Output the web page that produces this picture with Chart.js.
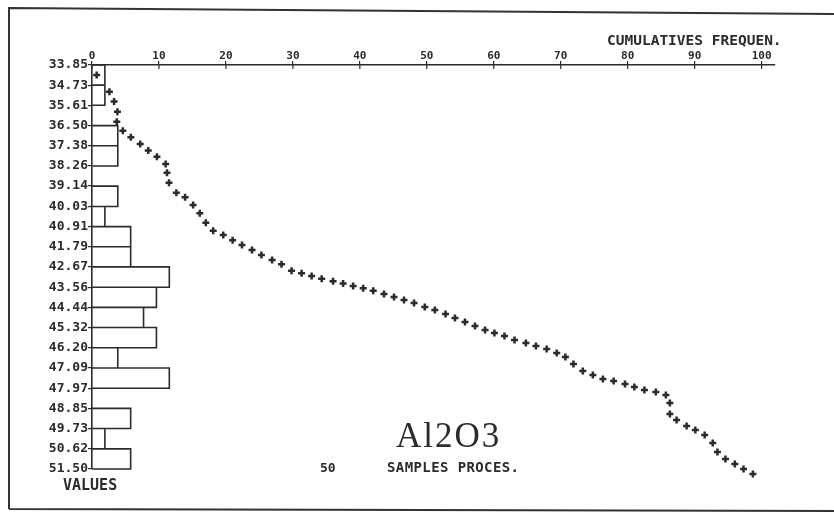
<!DOCTYPE html>
<html>
<head>
<meta charset="utf-8">
<script src="https://cdn.jsdelivr.net/npm/chart.js@4.4.1/dist/chart.umd.min.js"></script>
<style>
    html, body { margin: 0; padding: 0; background: #fff; }
    #wrap { position: relative; width: 834px; height: 515px; }
</style>
</head>
<body>
<div id="wrap"><canvas id="chart" width="834" height="515"></canvas></div>
<script>
// class limits of the Al2O3 values (left axis)
const valueTicks = [33.85, 34.73, 35.61, 36.50, 37.38, 38.26, 39.14, 40.03, 40.91, 41.79,
    42.67, 43.56, 44.44, 45.32, 46.20, 47.09, 47.97, 48.85, 49.73, 50.62, 51.50];
// samples per class (20 classes, 50 samples)
const binCounts = [1, 1, 0, 2, 2, 0, 2, 1, 3, 3, 6, 5, 4, 5, 2, 6, 0, 3, 1, 3];
const freqTicks = [0, 10, 20, 30, 40, 50, 60, 70, 80, 90, 100];

// cumulative frequency curve, read dot by dot
const cumFreq = [0.7, 2.6, 3.3, 3.8, 3.7, 4.6, 5.8, 7.2, 8.4, 9.7,
    11.0, 11.2, 11.5, 12.6, 13.9, 15.1, 16.1, 17.0, 18.1, 19.6,
    21.0, 22.4, 23.9, 25.3, 26.9, 28.3, 29.8, 31.3, 32.8, 34.3,
    36.0, 37.5, 39.0, 40.5, 42.0, 43.6, 45.1, 46.6, 48.1, 49.7,
    51.2, 52.8, 54.2, 55.7, 57.2, 58.7, 60.1, 61.6, 63.1, 64.8,
    66.3, 67.9, 69.4, 70.7, 71.9, 73.3, 74.8, 76.3, 77.9, 79.6,
    81.0, 82.5, 84.2, 85.7, 86.3, 86.3, 87.3, 88.8, 90.1, 91.5,
    92.7, 93.4, 94.6, 96.0, 97.3, 98.7];
const cumValues = [34.29, 35.02, 35.45, 35.89, 36.33, 36.72, 37.01, 37.30, 37.59, 37.86,
    38.18, 38.56, 38.99, 39.43, 39.63, 39.97, 40.33, 40.74, 41.09, 41.28,
    41.51, 41.71, 41.93, 42.15, 42.37, 42.56, 42.84, 42.95, 43.07, 43.19,
    43.30, 43.40, 43.50, 43.60, 43.71, 43.85, 43.99, 44.12, 44.25, 44.42,
    44.55, 44.73, 44.90, 45.08, 45.25, 45.43, 45.56, 45.69, 45.86, 45.99,
    46.13, 46.26, 46.43, 46.61, 46.91, 47.22, 47.39, 47.57, 47.66, 47.79,
    47.92, 48.05, 48.14, 48.27, 48.62, 49.10, 49.36, 49.62, 49.80, 50.01,
    50.36, 50.76, 51.06, 51.28, 51.50, 51.72];

const title = 'Al2O3';
const freqLabel = 'CUMULATIVES FREQUEN.';
const valueLabel = 'VALUES';
const samplesNumber = '50';
const samplesLabel = 'SAMPLES PROCES.';

const ink = '#2b2b2b';
const plotFont = 'DejaVu Sans Mono';

// histogram outline: one rectangle per class, broken by null points
const histPoints = [];
binCounts.forEach((c, i) => {
    if (!c) return;
    const lo = valueTicks[i], hi = valueTicks[i + 1];
    histPoints.push({ x: 0, y: lo }, { x: c, y: lo }, { x: c, y: hi }, { x: 0, y: hi }, { x: 0, y: null });
});

const curvePoints = cumFreq.map((f, i) => ({ x: f, y: cumValues[i] }));

const paperPlugin = {
    id: 'paper',
    beforeDraw(chart) {
        const ctx = chart.ctx;
        ctx.save();
        ctx.fillStyle = '#fff';
        ctx.fillRect(0, 0, chart.width, chart.height);
        ctx.strokeStyle = '#333';
        ctx.lineWidth = 2;
        ctx.beginPath();
        ctx.moveTo(9, 509);
        ctx.lineTo(9, 8);
        ctx.lineTo(840, 14);
        ctx.moveTo(9, 509);
        ctx.lineTo(840, 511);
        ctx.stroke();
        ctx.restore();
    },
    afterDraw(chart) {
        const ctx = chart.ctx;
        ctx.save();
        // small tick marks crossing the top axis, below the line
        const xs = chart.scales.x;
        ctx.strokeStyle = ink;
        ctx.lineWidth = 1.2;
        ctx.beginPath();
        freqTicks.forEach(v => {
            const px = xs.getPixelForValue(v);
            ctx.moveTo(px, xs.bottom);
            ctx.lineTo(px, xs.bottom + 4);
        });
        ctx.stroke();

        ctx.fillStyle = ink;
        ctx.textBaseline = 'alphabetic';
        ctx.textAlign = 'left';
        ctx.font = 'bold 14.5px "' + plotFont + '"';
        ctx.fillText(freqLabel, 607, 45);
        ctx.font = 'bold 15px "' + plotFont + '"';
        ctx.fillText(valueLabel, 63, 490);
        ctx.font = 'bold 13px "' + plotFont + '"';
        ctx.fillText(samplesNumber, 320, 472);
        ctx.font = 'bold 14px "' + plotFont + '"';
        ctx.letterSpacing = '0.4px';
        ctx.fillText(samplesLabel, 387, 472);
        ctx.font = '35px "Liberation Serif"';
        ctx.letterSpacing = '2px';
        ctx.fillText(title, 396, 447);
        ctx.restore();
    }
};

new Chart(document.getElementById('chart'), {
    type: 'scatter',
    data: {
        datasets: [{
            label: 'classes',
            data: histPoints,
            xAxisID: 'count',
            showLine: true,
            borderColor: ink,
            borderWidth: 1.6,
            pointRadius: 0,
            spanGaps: false,
            clip: false
        }, {
            label: 'cumulative',
            data: curvePoints,
            pointStyle: 'cross',
            pointRadius: 3.5,
            borderColor: ink,
            backgroundColor: ink,
            pointBorderWidth: 2.5,
            clip: false
        }]
    },
    options: {
        responsive: false,
        animation: false,
        layout: { padding: { left: 0, top: 0, right: 59, bottom: 46 } },
        plugins: {
            legend: { display: false },
            tooltip: { enabled: false }
        },
        scales: {
            x: {
                type: 'linear',
                position: 'top',
                min: 0,
                max: 102,
                afterBuildTicks: s => { s.ticks = freqTicks.map(v => ({ value: v })); },
                afterFit: s => { s.height = 65; },
                grid: { drawOnChartArea: false, tickLength: 4, color: ink, lineWidth: 1.2 },
                border: { color: ink, width: 1.6 },
                ticks: {
                    color: ink,
                    padding: -2,
                    maxRotation: 0,
                    autoSkip: false,
                    font: { family: plotFont, size: 11, weight: 'bold' }
                }
            },
            // histogram length scale (samples per class), not shown
            count: {
                type: 'linear',
                display: false,
                min: 0,
                max: 53
            },
            y: {
                type: 'linear',
                reverse: true,
                min: valueTicks[0],
                max: valueTicks[valueTicks.length - 1],
                afterBuildTicks: s => { s.ticks = valueTicks.map(v => ({ value: v })); },
                afterFit: s => { s.width = 92; },
                grid: { drawOnChartArea: false, tickLength: 4, color: ink, lineWidth: 1.2 },
                border: { color: ink, width: 1.6 },
                ticks: {
                    color: ink,
                    padding: 0,
                    autoSkip: false,
                    callback: v => v.toFixed(2),
                    font: { family: plotFont, size: 13, weight: 'bold' }
                }
            }
        }
    },
    plugins: [paperPlugin]
});
</script>
</body>
</html>
